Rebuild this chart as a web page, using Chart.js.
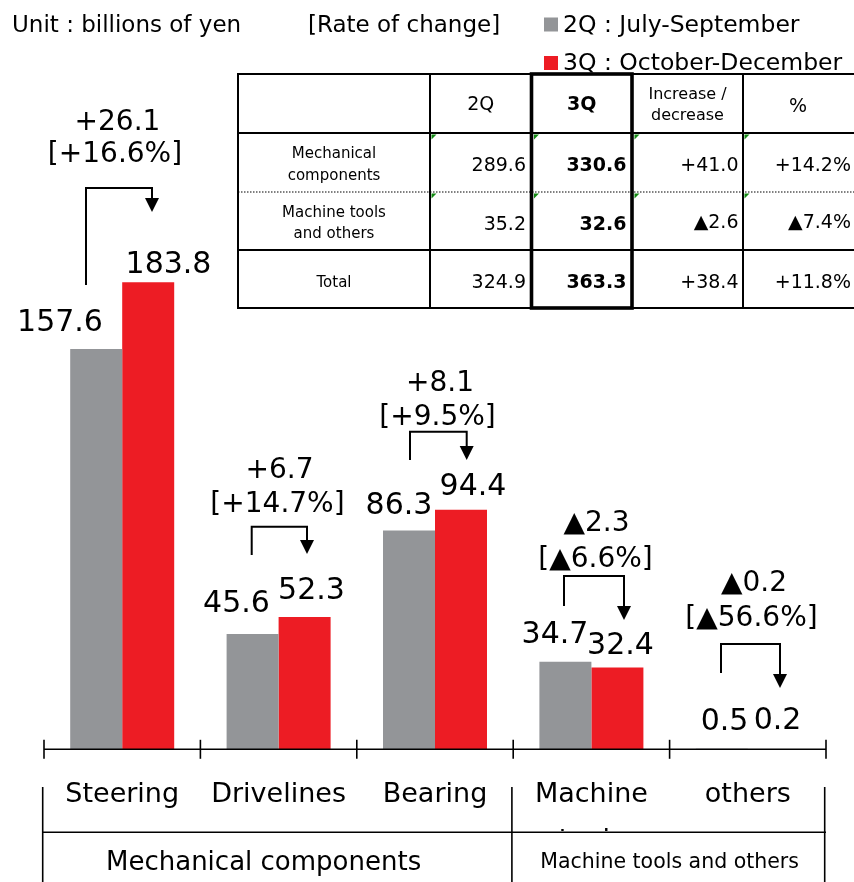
<!DOCTYPE html>
<html>
<head>
<meta charset="utf-8">
<script src="https://cdn.jsdelivr.net/npm/chart.js@4.4.1/dist/chart.umd.min.js"></script>
<style>
html,body{margin:0;padding:0;background:#fff;}
canvas{display:block;}
</style>
</head>
<body>
<canvas id="c" width="854" height="882"></canvas>
<script>
// ---------------- DATA ----------------
const categories = ["Steering", "Drivelines", "Bearing", ["Machine", "tools"], "others"];
const values2Q = [157.6, 45.6, 86.3, 34.7, 0.5];
const values3Q = [183.8, 52.3, 94.4, 32.4, 0.2];
const changeAmount = ["+26.1", "+6.7", "+8.1", "▲2.3", "▲0.2"];
const changeRate = ["[+16.6%]", "[+14.7%]", "[+9.5%]", "[▲6.6%]", "[▲56.6%]"];
const groupLabels = ["Mechanical components", "Machine tools and others"];
const groupSizes = [3, 2];
const seriesNames = ["2Q : July-September", "3Q : October-December"];
const unitText = "Unit : billions of yen";
const rateHeader = "[Rate of change]";
const tableHeader = ["", "2Q", "3Q", ["Increase /", "decrease"], "%"];
const tableRowLabels = [["Mechanical", "components"], ["Machine tools", "and others"], ["Total"]];
const table2Q = ["289.6", "35.2", "324.9"];
const table3Q = ["330.6", "32.6", "363.3"];
const tableDiff = ["+41.0", "▲2.6", "+38.4"];
const tablePct = ["+14.2%", "▲7.4%", "+11.8%"];

// ---------------- STYLE / LAYOUT ----------------
const FONT = '"DejaVu Sans", Verdana, sans-serif';
const GRAY = '#939598';
const RED = '#ED1C24';
// value label offsets: [dx from bar centre, dy of text centre from bar top]
const L2Q = [[-36.2,-29.4],[-16.1,-33],[-10,-26.9],[-10.4,-29.2],[2.7,-30.2]];
const L3Q = [[20.3,-19.8],[6.9,-29.4],[12,-25.8],[3.1,-25],[3.7,-31]];
// change texts: [dx from category centre, dy from top of taller bar]
const C1 = [[-4.7,-162.3],[0.9,-149.4],[5,-128.8],[5.1,-138.7],[6.2,-166.7]];
const C2 = [[-7.2,-129.8],[-1.1,-114.4],[2.5,-93.8],[4.1,-103.2],[3.7,-132.2]];
// arrows: [left dx, start dy, top dy, right dx, tip dy]
const AR = [[-36.2,2.7,-94.3,29.8,-70.3],[-26.9,-61.9,-90.2,28.4,-62.9],[-25,-49.8,-78.1,31.7,-49.8],[-27.4,-55.7,-85.7,32.6,-41.7],[-26.8,-75.7,-104.7,32.2,-60.7]];
const GROUP_DX = [-15, 0];

function line(ctx, x1, y1, x2, y2, w, color) {
  ctx.beginPath();
  ctx.lineWidth = w;
  ctx.strokeStyle = color || '#000';
  ctx.moveTo(x1, y1); ctx.lineTo(x2, y2);
  ctx.stroke();
}
function textC(ctx, str, x, cy, font, align, color) {
  ctx.font = font;
  ctx.fillStyle = color || '#000';
  ctx.textAlign = align || 'center';
  ctx.textBaseline = 'alphabetic';
  const m = ctx.measureText(str);
  ctx.fillText(str, x, cy + (m.actualBoundingBoxAscent - m.actualBoundingBoxDescent) / 2);
}
function textB(ctx, str, x, by, font, align, color) {
  ctx.font = font;
  ctx.fillStyle = color || '#000';
  ctx.textAlign = align || 'center';
  ctx.textBaseline = 'alphabetic';
  ctx.fillText(str, x, by);
}

const overlay = {
  id: 'overlay',
  afterDraw(chart) {
    const ctx = chart.ctx;
    const xs = chart.scales.x, ys = chart.scales.y;
    const m0 = chart.getDatasetMeta(0), m1 = chart.getDatasetMeta(1);
    const n = categories.length;
    const step = xs.getPixelForValue(1) - xs.getPixelForValue(0);
    const edges = [];
    for (let i = 0; i <= n; i++) edges.push(xs.getPixelForValue(0) - step / 2 + i * step);
    const base = ys.getPixelForValue(0);
    ctx.save();

    // axis line and ticks
    const axisY = base - 0.7;
    line(ctx, edges[0], axisY, edges[n], axisY, 1.6);
    edges.forEach(e => line(ctx, e, axisY - 9.5, e, axisY + 9.5, 1.6));

    // category labels
    const lblFont = '27px ' + FONT;
    for (let i = 0; i < n; i++) {
      const cx = xs.getPixelForValue(i);
      const lab = Array.isArray(categories[i]) ? categories[i] : [categories[i]];
      textB(ctx, lab[0], cx, 801.5, lblFont);
      for (let k = 1; k < lab.length; k++) {
        ctx.save();
        ctx.beginPath(); ctx.rect(cx - 80, 780, 160, 51); ctx.clip();
        textB(ctx, lab[k], cx, 801.5 + 46.5 * k, lblFont);
        ctx.restore();
      }
    }

    // group box
    const boxTop = 787, boxBot = 882, hY = 832.3;
    line(ctx, edges[0] - 1.3, hY, edges[n], hY, 1.6);
    let acc = 0;
    const bx = [edges[0] - 1.3];
    groupSizes.forEach(s => { acc += s; bx.push(edges[acc] - 1.3); });
    bx.forEach(x => line(ctx, x, boxTop, x, boxBot, 1.6));
    acc = 0;
    groupSizes.forEach((s, g) => {
      const x0 = edges[acc], x1 = edges[acc + s];
      acc += s;
      const f = g === 0 ? '26px ' + FONT : '20.5px ' + FONT;
      textB(ctx, groupLabels[g], (x0 + x1) / 2 + GROUP_DX[g], g === 0 ? 869.5 : 868, f);
    });

    // value labels
    const valFont = '30px ' + FONT;
    for (let i = 0; i < n; i++) {
      const b0 = m0.data[i], b1 = m1.data[i];
      textC(ctx, String(values2Q[i].toFixed(1)), b0.x + L2Q[i][0], b0.y + L2Q[i][1], valFont);
      textC(ctx, String(values3Q[i].toFixed(1)), b1.x + L3Q[i][0], b1.y + L3Q[i][1], valFont);
    }

    // change annotations + arrows
    const chFont = '28px ' + FONT;
    for (let i = 0; i < n; i++) {
      const cx = xs.getPixelForValue(i);
      const top = ys.getPixelForValue(Math.max(values2Q[i], values3Q[i]));
      textC(ctx, changeAmount[i], cx + C1[i][0], top + C1[i][1], chFont);
      textC(ctx, changeRate[i], cx + C2[i][0], top + C2[i][1], chFont);
      const a = AR[i];
      const lx = cx + a[0], sy = top + a[1], ty = top + a[2], rx = cx + a[3], tip = top + a[4];
      const hh = 14, hw = 14;
      ctx.beginPath();
      ctx.lineWidth = 2; ctx.strokeStyle = '#000'; ctx.lineJoin = 'miter';
      ctx.moveTo(lx, sy); ctx.lineTo(lx, ty); ctx.lineTo(rx, ty); ctx.lineTo(rx, tip - hh + 1);
      ctx.stroke();
      ctx.beginPath();
      ctx.fillStyle = '#000';
      ctx.moveTo(rx - hw / 2, tip - hh); ctx.lineTo(rx + hw / 2, tip - hh); ctx.lineTo(rx, tip);
      ctx.closePath(); ctx.fill();
    }

    // header texts & legend
    const topFont = '23px ' + FONT;
    textB(ctx, unitText, 12, 31.5, topFont, 'left');
    textB(ctx, rateHeader, 308, 31.5, topFont, 'left');
    const legFont = '23.5px ' + FONT;
    chart.data.datasets.forEach((ds, d) => {
      const by = d === 0 ? 31.5 : 70;
      ctx.fillStyle = ds.backgroundColor;
      ctx.fillRect(544, by - 14, 14, 14);
      textB(ctx, ds.label, 563, by, legFont, 'left');
    });

    // table
    const cols = [238, 430, 531.5, 632, 743, 858];
    const rows = [74, 133, 192, 250, 308];
    ctx.fillStyle = '#fff';
    ctx.fillRect(cols[0], rows[0], cols[5] - cols[0], rows[4] - rows[0]);
    // green markers
    ctx.fillStyle = '#138a13';
    for (let r = 1; r <= 2; r++) {
      [1, 2, 3, 4].forEach(c => {
        const x = cols[c] + (c === 2 || c === 3 ? 2.5 : 1.5), y = rows[r] + 1.5;
        ctx.beginPath(); ctx.moveTo(x, y); ctx.lineTo(x + 5, y); ctx.lineTo(x, y + 5); ctx.closePath(); ctx.fill();
      });
    }
    [0, 1, 3, 4].forEach(r => line(ctx, cols[0], rows[r], cols[5], rows[r], 2));
    ctx.save();
    ctx.setLineDash([1.5, 1.5]);
    line(ctx, cols[0], rows[2], cols[5], rows[2], 2, '#808080');
    ctx.restore();
    [0, 1, 4].forEach(c => line(ctx, cols[c], rows[0] - 1, cols[c], rows[4] + 1, 2));
    ctx.lineWidth = 3.6; ctx.strokeStyle = '#000';
    ctx.strokeRect(cols[2], rows[0], cols[3] - cols[2], rows[4] - rows[0]);

    // table header
    const hcy = (rows[0] + rows[1]) / 2;
    textC(ctx, tableHeader[1], (cols[1] + cols[2]) / 2, hcy + 1, '19px ' + FONT);
    textC(ctx, tableHeader[2], (cols[2] + cols[3]) / 2, hcy + 1, 'bold 19px ' + FONT);
    textB(ctx, tableHeader[3][0], (cols[3] + cols[4]) / 2, 98.5, '16px ' + FONT);
    textB(ctx, tableHeader[3][1], (cols[3] + cols[4]) / 2, 119.5, '16px ' + FONT);
    textC(ctx, tableHeader[4], 798, hcy + 1, '19px ' + FONT);
    // rows
    const labBase = [[158, 179.5], [216.5, 238], [286.5]];
    const numFont = '19px ' + FONT, boldFont = 'bold 19px ' + FONT;
    for (let r = 0; r < 3; r++) {
      tableRowLabels[r].forEach((t, k) => textB(ctx, t, (cols[0] + cols[1]) / 2, labBase[r][k], '15px ' + FONT));
      const cy = (rows[r + 1] + rows[r + 2]) / 2 + 1.5;
      textC(ctx, table2Q[r], cols[2] - 5.5, cy, numFont, 'right');
      textC(ctx, table3Q[r], cols[3] - 5.5, cy, boldFont, 'right');
      textC(ctx, tableDiff[r], cols[4] - 4.5, cy, numFont, 'right');
      textC(ctx, tablePct[r], 851, cy, numFont, 'right');
    }
    ctx.restore();
  }
};

new Chart(document.getElementById('c').getContext('2d'), {
  type: 'bar',
  data: {
    labels: categories,
    datasets: [
      { label: seriesNames[0], data: values2Q, backgroundColor: GRAY, categoryPercentage: 0.665, barPercentage: 1.0, borderWidth: 0 },
      { label: seriesNames[1], data: values3Q, backgroundColor: RED, categoryPercentage: 0.665, barPercentage: 1.0, borderWidth: 0 }
    ]
  },
  options: {
    responsive: false,
    animation: false,
    devicePixelRatio: 1,
    layout: { padding: { left: 44, right: 28, top: 12, bottom: 132 } },
    plugins: { legend: { display: false }, tooltip: { enabled: false } },
    scales: {
      x: { display: false },
      y: { display: false, min: 0, max: 290 }
    }
  },
  plugins: [overlay]
});
</script>
</body>
</html>
